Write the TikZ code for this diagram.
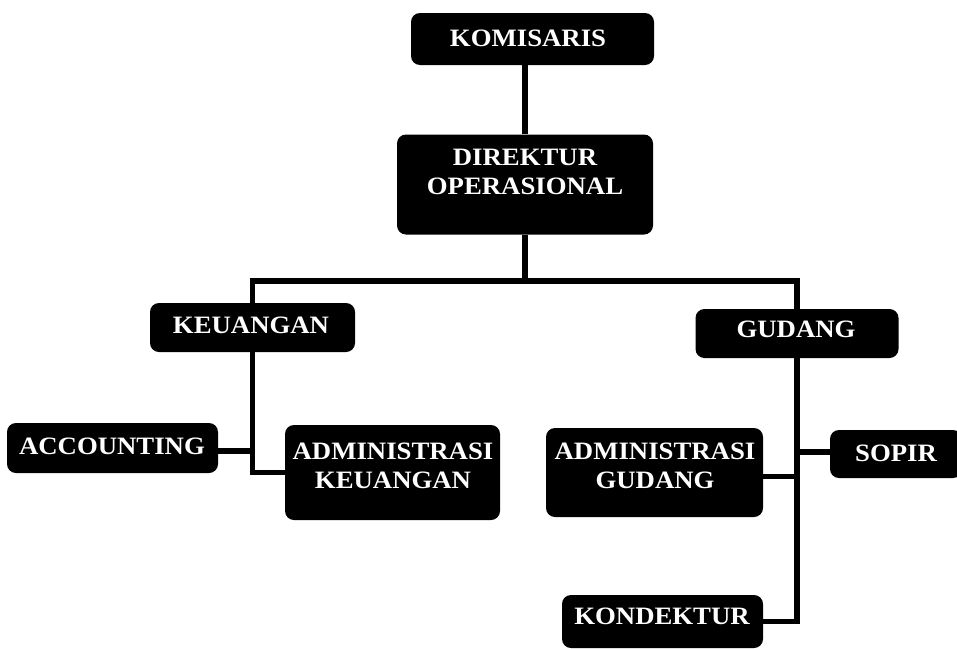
\documentclass[tikz,border=0pt]{standalone}
\usepackage{fontspec}
\setmainfont{Liberation Serif}[FakeStretch=1.07]
\begin{document}
\begin{tikzpicture}[x=1pt,y=-1pt,
  box/.style={fill=black, rounded corners=9pt, inner sep=0pt},
  lbl/.style={text=white, font=\fontsize{25}{29.5}\selectfont\bfseries,
              align=center, inner sep=0pt},
  conn/.style={line width=5.5pt, line join=miter}]
  % page frame
  \fill[white] (0,0) rectangle (957,648);
  \path[use as bounding box] (0,0) rectangle (957,648);
  \clip (0,0) rectangle (957,648);

  % boxes
  \node[box, minimum width=243pt, minimum height=52pt]  (kom) at (532.5,39)  {};
  \node[box, minimum width=256pt, minimum height=100pt] (dir) at (525,184.5) {};
  \node[box, minimum width=205pt, minimum height=49pt]  (keu) at (252.5,327.5) {};
  \node[box, minimum width=203pt, minimum height=49pt]  (gud) at (797,333.5) {};
  \node[box, minimum width=211pt, minimum height=50pt]  (acc) at (112.5,448) {};
  \node[box, minimum width=215pt, minimum height=95pt]  (adk) at (392.5,472.5) {};
  \node[box, minimum width=217pt, minimum height=89pt]  (adg) at (654.5,472.5) {};
  \node[box, minimum width=132pt, minimum height=48pt]  (sop) at (896,454) {};
  \node[box, minimum width=201pt, minimum height=53pt]  (kon) at (662.5,621.5) {};

  % labels
  \node[lbl] (komT) at (528,38)    {KOMISARIS};
  \node[lbl] (dirT) at (525,172)   {DIREKTUR\\OPERASIONAL};
  \node[lbl] (keuT) at (251,325)   {KEUANGAN};
  \node[lbl] (gudT) at (796,329)   {GUDANG};
  \node[lbl] (accT) at (112,446)   {ACCOUNTING};
  \node[lbl] (adkT) at (393,466)   {ADMINISTRASI\\KEUANGAN};
  \node[lbl] (adgT) at (655,466)   {ADMINISTRASI\\GUDANG};
  \node[lbl] (sopT) at (896,453)   {SOPIR};
  \node[lbl] (konT) at (662,616)   {KONDEKTUR};

  % connectors
  \coordinate (bus) at (525,281);
  \draw[conn] (dir.north) -- (dir.north |- kom.south);
  \draw[conn] (dir.south) -- (bus);
  \draw[conn] (keu.north) |- (bus) -| (gud.north);
  \draw[conn] (keu.south) |- (adk.west);
  \draw[conn] ([yshift=-3pt]acc.east) -- ([yshift=-3pt]acc.east -| keu.south);
  \draw[conn] (gud.south) |- (kon.east);
  \draw[conn] ([yshift=2pt]sop.west) -- ([yshift=2pt]sop.west -| gud.south);
  \draw[conn] ([yshift=-4pt]adg.east) -- ([yshift=-4pt]adg.east -| gud.south);
\end{tikzpicture}
\end{document}
